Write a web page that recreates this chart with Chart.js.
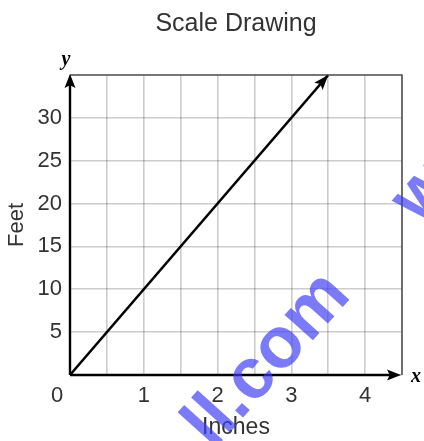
<!DOCTYPE html>
<html>
<head>
<meta charset="utf-8">
<script src="https://cdn.jsdelivr.net/npm/chart.js@4"></script>
<style>
  html, body { margin: 0; padding: 0; background: #fff; }
  #wrap { width: 424px; height: 441px; position: relative; }
</style>
</head>
<body>
<div id="wrap"><canvas id="c" width="424" height="441"></canvas></div>
<script>
// ---- data ----
const inches = [0, 3.5];
const feet = [0, 35];
const xTickLabels = [1, 2, 3, 4];
const yTickLabels = [5, 10, 15, 20, 25, 30];
const xMin = 0, xMax = 4.5, xStep = 0.5;
const yMin = 0, yMax = 35, yStep = 5;
const titleText = 'Scale Drawing';
const xTitle = 'Inches';
const yTitle = 'Feet';
const watermark1 = 'll.com';
const watermark2 = 'w';

const TXT = '#333';
const SANS = "'Liberation Sans', Arial, sans-serif";

function arrowHead(ctx, x, y, ang, len, wid) {
  ctx.save();
  ctx.translate(x, y);
  ctx.rotate(ang);
  ctx.beginPath();
  ctx.moveTo(0, 0);
  ctx.lineTo(-len, -wid / 2);
  ctx.lineTo(-len * 0.8, 0);
  ctx.lineTo(-len, wid / 2);
  ctx.closePath();
  ctx.fillStyle = '#000';
  ctx.fill();
  ctx.restore();
}

function stamp(ctx, text, x, y) {
  ctx.save();
  ctx.fillStyle = 'rgba(60,60,245,0.68)';
  ctx.font = "bold 72px " + SANS;
  ctx.textBaseline = 'alphabetic';
  ctx.textAlign = 'left';
  ctx.translate(x, y);
  ctx.rotate(-48 * Math.PI / 180);
  ctx.fillText(text, 0, 0);
  ctx.restore();
}

const decor = {
  id: 'decor',
  afterLayout(chart) {
    const ca = chart.chartArea;
    if (chart.titleBlock) {
      chart.titleBlock.left = ca.left;
      chart.titleBlock.right = ca.right;
    }
  },
  afterDatasetsDraw(chart) {
    const ctx = chart.ctx;
    const xs = chart.scales.x, ys = chart.scales.y;
    const L = xs.getPixelForValue(xMin), R = xs.getPixelForValue(xMax);
    const T = ys.getPixelForValue(yMax), B = ys.getPixelForValue(yMin);
    ctx.save();
    // top & right frame
    ctx.strokeStyle = '#555';
    ctx.lineWidth = 1.6;
    ctx.beginPath();
    ctx.moveTo(L, T); ctx.lineTo(R, T); ctx.lineTo(R, B);
    ctx.stroke();
    // main axes
    ctx.strokeStyle = '#000';
    ctx.lineWidth = 2.4;
    ctx.beginPath();
    ctx.moveTo(L, B); ctx.lineTo(L, T + 8);
    ctx.moveTo(L, B); ctx.lineTo(R - 8, B);
    ctx.stroke();
    arrowHead(ctx, L, T - 1, -Math.PI / 2, 14, 11);
    arrowHead(ctx, R - 1, B, 0, 14, 11);
    // line arrow
    const meta = chart.getDatasetMeta(0);
    const p1 = meta.data[meta.data.length - 2], p2 = meta.data[meta.data.length - 1];
    const ang = Math.atan2(p2.y - p1.y, p2.x - p1.x);
    arrowHead(ctx, p2.x, p2.y, ang, 15, 11);
    // axis letters
    ctx.fillStyle = '#000';
    ctx.font = "italic bold 20px 'Liberation Serif', 'Times New Roman', serif";
    ctx.textAlign = 'center';
    ctx.textBaseline = 'middle';
    ctx.fillText('y', L - 4, T - 15);
    ctx.fillText('x', R + 14, B + 2);
    // origin label
    ctx.fillStyle = TXT;
    ctx.font = "22px " + SANS;
    ctx.fillText(String(xMin), L - 13, B + 21);
    ctx.restore();
  },
  afterDraw(chart) {
    const ctx = chart.ctx;
    stamp(ctx, watermark1, 213, 451);
    stamp(ctx, watermark2, 420, 226);
  }
};

new Chart(document.getElementById('c'), {
  type: 'scatter',
  data: {
    datasets: [{
      data: inches.map((x, i) => ({ x: x, y: feet[i] })),
      showLine: true,
      borderColor: '#000',
      borderWidth: 2.6,
      pointRadius: 0,
      clip: false
    }]
  },
  options: {
    responsive: false,
    animation: false,
    layout: { padding: { left: 0, right: 22, top: 0, bottom: 0 } },
    plugins: {
      legend: { display: false },
      tooltip: { enabled: false },
      title: {
        display: true,
        text: titleText,
        color: TXT,
        font: { family: SANS, size: 25, weight: 'normal' },
        padding: { top: 9, bottom: 36 }
      }
    },
    scales: {
      x: {
        type: 'linear',
        min: xMin, max: xMax,
        afterFit: s => { s.height = 66; },
        afterBuildTicks: s => {
          const t = [];
          for (let v = xMin; v <= xMax + 1e-9; v += xStep) t.push({ value: +v.toFixed(2) });
          s.ticks = t;
        },
        ticks: {
          autoSkip: false,
          maxRotation: 0,
          padding: 8,
          color: TXT,
          font: { family: SANS, size: 22 },
          callback: v => xTickLabels.includes(v) ? String(v) : ''
        },
        grid: { color: 'rgba(0,0,0,0.2)', lineWidth: 1.6, drawTicks: false },
        border: { display: false },
        title: {
          display: true,
          text: xTitle,
          color: TXT,
          font: { family: SANS, size: 23 },
          padding: { top: -3, bottom: 0 }
        }
      },
      y: {
        type: 'linear',
        min: yMin, max: yMax,
        afterFit: s => { s.width = 70; },
        afterBuildTicks: s => {
          const t = [];
          for (let v = yMin; v <= yMax + 1e-9; v += yStep) t.push({ value: v });
          s.ticks = t;
        },
        ticks: {
          autoSkip: false,
          padding: 8,
          color: TXT,
          font: { family: SANS, size: 22 },
          callback: v => yTickLabels.includes(v) ? String(v) : ''
        },
        grid: { color: 'rgba(0,0,0,0.2)', lineWidth: 1.6, drawTicks: false },
        border: { display: false },
        title: {
          display: true,
          text: yTitle,
          color: TXT,
          font: { family: SANS, size: 22 },
          padding: { top: 4, bottom: 0 }
        }
      }
    }
  },
  plugins: [decor]
});
</script>
</body>
</html>
